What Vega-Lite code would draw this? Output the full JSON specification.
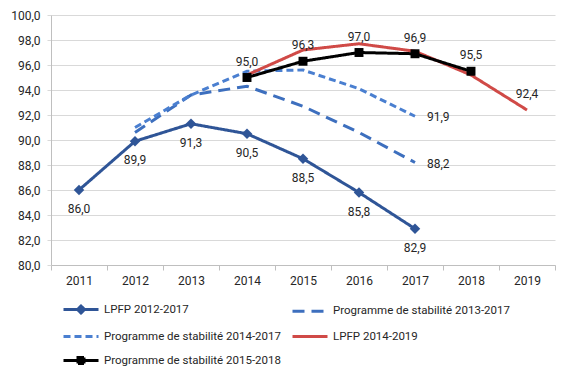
{
  "$schema": "https://vega.github.io/schema/vega-lite/v6.json",
  "width": 504,
  "height": 250,
  "autosize": {"type": "none"},
  "padding": {"left": 51, "top": 15, "right": 17, "bottom": 113},
  "config": {
    "locale": {"number": {"decimal": ",", "thousands": " ", "grouping": [3], "currency": ["", " €"]}},
    "view": {"stroke": null},
    "font": "Roboto",
    "text": {"font": "Roboto", "fontSize": 12, "color": "#262626"}
  },
  "data": {
    "values": [
      {"serie": "LPFP 2012-2017", "annee": "2011", "valeur": 86.0},
      {"serie": "LPFP 2012-2017", "annee": "2012", "valeur": 89.9},
      {"serie": "LPFP 2012-2017", "annee": "2013", "valeur": 91.3},
      {"serie": "LPFP 2012-2017", "annee": "2014", "valeur": 90.5},
      {"serie": "LPFP 2012-2017", "annee": "2015", "valeur": 88.5},
      {"serie": "LPFP 2012-2017", "annee": "2016", "valeur": 85.8},
      {"serie": "LPFP 2012-2017", "annee": "2017", "valeur": 82.9},
      {"serie": "Programme de stabilité 2013-2017", "annee": "2012", "valeur": 90.6},
      {"serie": "Programme de stabilité 2013-2017", "annee": "2013", "valeur": 93.6},
      {"serie": "Programme de stabilité 2013-2017", "annee": "2014", "valeur": 94.3},
      {"serie": "Programme de stabilité 2013-2017", "annee": "2015", "valeur": 92.7},
      {"serie": "Programme de stabilité 2013-2017", "annee": "2016", "valeur": 90.6},
      {"serie": "Programme de stabilité 2013-2017", "annee": "2017", "valeur": 88.2},
      {"serie": "Programme de stabilité 2014-2017", "annee": "2012", "valeur": 91.0},
      {"serie": "Programme de stabilité 2014-2017", "annee": "2013", "valeur": 93.6},
      {"serie": "Programme de stabilité 2014-2017", "annee": "2014", "valeur": 95.5},
      {"serie": "Programme de stabilité 2014-2017", "annee": "2015", "valeur": 95.6},
      {"serie": "Programme de stabilité 2014-2017", "annee": "2016", "valeur": 94.1},
      {"serie": "Programme de stabilité 2014-2017", "annee": "2017", "valeur": 91.9},
      {"serie": "LPFP 2014-2019", "annee": "2014", "valeur": 95.2},
      {"serie": "LPFP 2014-2019", "annee": "2015", "valeur": 97.2},
      {"serie": "LPFP 2014-2019", "annee": "2016", "valeur": 97.7},
      {"serie": "LPFP 2014-2019", "annee": "2017", "valeur": 97.1},
      {"serie": "LPFP 2014-2019", "annee": "2018", "valeur": 95.2},
      {"serie": "LPFP 2014-2019", "annee": "2019", "valeur": 92.4},
      {"serie": "Programme de stabilité 2015-2018", "annee": "2014", "valeur": 95.0},
      {"serie": "Programme de stabilité 2015-2018", "annee": "2015", "valeur": 96.3},
      {"serie": "Programme de stabilité 2015-2018", "annee": "2016", "valeur": 97.0},
      {"serie": "Programme de stabilité 2015-2018", "annee": "2017", "valeur": 96.9},
      {"serie": "Programme de stabilité 2015-2018", "annee": "2018", "valeur": 95.5}
    ]
  },
  "encoding": {
    "x": {
      "field": "annee", "type": "ordinal",
      "scale": {"type": "band", "paddingInner": 0, "paddingOuter": 0, "domain": ["2011","2012","2013","2014","2015","2016","2017","2018","2019"]},
      "axis": {"title": null, "labelAngle": 0, "tickBand": "extent", "grid": false, "domainColor": "#BFBFBF", "tickColor": "#BFBFBF", "tickSize": 5, "labelPadding": 5, "labelFont": "Roboto", "labelFontSize": 12, "labelColor": "#262626"}
    },
    "y": {
      "field": "valeur", "type": "quantitative",
      "scale": {"domain": [80, 100], "nice": false, "zero": false},
      "axis": {"title": null, "values": [80,82,84,86,88,90,92,94,96,98,100], "format": ".1f", "gridColor": "#D9D9D9", "domainColor": "#BFBFBF", "tickColor": "#D9D9D9", "tickSize": 4, "labelPadding": 7, "labelFont": "Roboto", "labelFontSize": 12, "labelColor": "#262626"}
    }
  },
  "layer": [
    {
      "mark": {"type": "line"},
      "encoding": {
        "color": {
          "field": "serie", "type": "nominal",
          "scale": {
            "domain": ["LPFP 2012-2017", "Programme de stabilité 2014-2017", "Programme de stabilité 2015-2018", "Programme de stabilité 2013-2017", "LPFP 2014-2019"],
            "range": ["#2F5597", "#4A7FD0", "#000000", "#3D6FBE", "#D04A47"]
          },
          "legend": {
            "title": null, "orient": "none", "legendX": 18.5, "legendY": 283, "columns": 2, "columnPadding": 5, "rowPadding": 6,
            "symbolType": "M-1.75,0H1.75", "symbolSize": 400, "symbolStrokeWidth": 3, "labelFont": "Roboto", "labelFontSize": 11.5, "labelColor": "#262626", "labelOffset": 11.5, "labelLimit": 300,
            "encode": {
              "symbols": {
                "update": {
                  "shape": {"signal": "datum.value === 'LPFP 2012-2017' ? 'M-1.75,0H1.75M0,-0.35L0.35,0L0,0.35L-0.35,0Z' : datum.value === 'Programme de stabilité 2015-2018' ? 'M-1.75,0H1.75M-0.3,-0.3H0.3V0.3H-0.3Z' : 'M-1.75,0H1.75'"},
                  "fill": {"signal": "datum.value === 'LPFP 2012-2017' ? '#2F5597' : datum.value === 'Programme de stabilité 2015-2018' ? '#000000' : 'transparent'"}
                }
              }
            }
          }
        },
        "strokeDash": {
          "field": "serie", "type": "nominal",
          "scale": {
            "domain": ["LPFP 2012-2017", "Programme de stabilité 2014-2017", "Programme de stabilité 2015-2018", "Programme de stabilité 2013-2017", "LPFP 2014-2019"],
            "range": [[1, 0], [7, 4], [1, 0], [12, 7], [1, 0]]
          },
          "legend": {"title": null}
        },
        "strokeWidth": {
          "field": "serie", "type": "nominal",
          "scale": {
            "domain": ["LPFP 2012-2017", "Programme de stabilité 2014-2017", "Programme de stabilité 2015-2018", "Programme de stabilité 2013-2017", "LPFP 2014-2019"],
            "range": [3, 3, 3, 3, 2.2]
          },
          "legend": null
        }
      }
    },
    {
      "transform": [{"filter": "datum.serie === 'LPFP 2012-2017'"}],
      "mark": {"type": "point", "shape": "diamond", "filled": true, "color": "#2F5597", "size": 110, "opacity": 1}
    },
    {
      "transform": [{"filter": "datum.serie === 'Programme de stabilité 2015-2018'"}],
      "mark": {"type": "square", "color": "#000000", "size": 80, "opacity": 1}
    },
    {
      "transform": [{"filter": "datum.serie === 'LPFP 2012-2017'"}],
      "mark": {"type": "text", "dy": 19},
      "encoding": {"text": {"field": "valeur", "type": "quantitative", "format": ".1f"}}
    },
    {
      "transform": [{"filter": "datum.serie === 'Programme de stabilité 2015-2018' || (datum.serie === 'LPFP 2014-2019' && datum.annee === '2019')"}],
      "mark": {"type": "text", "dy": -16},
      "encoding": {"text": {"field": "valeur", "type": "quantitative", "format": ".1f"}}
    },
    {
      "transform": [{"filter": "(datum.serie === 'Programme de stabilité 2013-2017' || datum.serie === 'Programme de stabilité 2014-2017') && datum.annee === '2017'"}],
      "mark": {"type": "text", "dx": 12, "dy": 1, "align": "left"},
      "encoding": {"text": {"field": "valeur", "type": "quantitative", "format": ".1f"}}
    }
  ]
}
